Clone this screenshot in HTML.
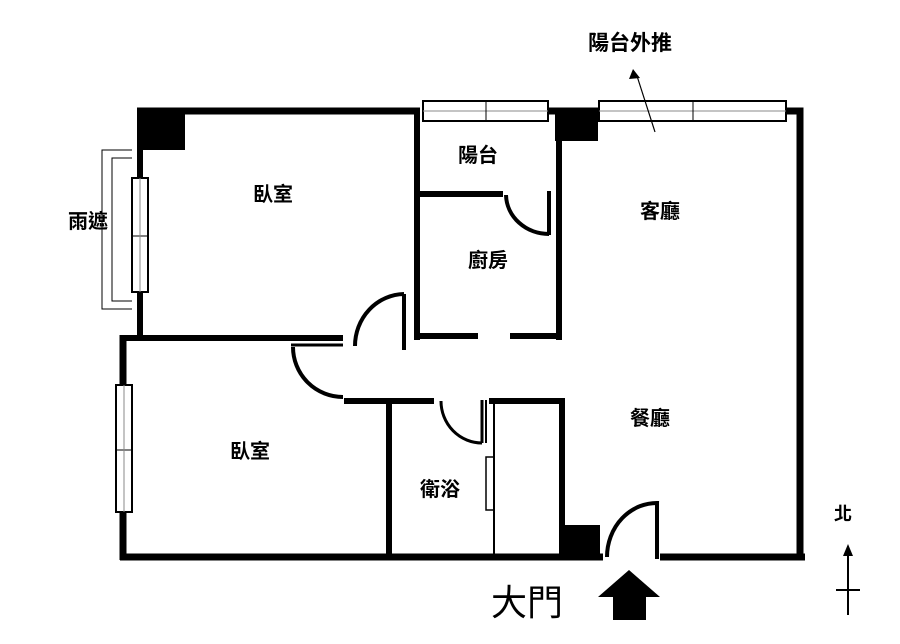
<!DOCTYPE html>
<html><head><meta charset="utf-8"><style>
html,body{margin:0;padding:0;background:#fff}
svg{display:block}
text{font-family:"Liberation Sans","Noto Sans CJK TC",sans-serif;fill:#000;font-weight:bold}
text.n{font-weight:normal}
</style></head><body>
<svg width="900" height="644" viewBox="0 0 900 644" xmlns="http://www.w3.org/2000/svg">
<g stroke="#000" fill="none" stroke-linecap="butt">
<line x1="137" y1="111" x2="420" y2="111" stroke-width="7"/>
<line x1="548" y1="111" x2="599" y2="111" stroke-width="7"/>
<polyline points="786,111 800,111 800,557" stroke-width="7"/>
<line x1="140" y1="108" x2="140" y2="340" stroke-width="6"/>
<line x1="120" y1="338" x2="343" y2="338" stroke-width="6"/>
<line x1="123" y1="335" x2="123" y2="560" stroke-width="7"/>
<line x1="120" y1="557" x2="603" y2="557" stroke-width="7"/>
<line x1="660" y1="557" x2="805" y2="557" stroke-width="7"/>
<line x1="417" y1="108" x2="417" y2="340" stroke-width="6"/>
<line x1="559" y1="108" x2="559" y2="340" stroke-width="6"/>
<line x1="417" y1="194" x2="503" y2="194" stroke-width="6"/>
<line x1="414" y1="336" x2="478" y2="336" stroke-width="6"/>
<line x1="510" y1="336" x2="562" y2="336" stroke-width="6"/>
<line x1="291" y1="345" x2="343" y2="345" stroke-width="3"/>
<line x1="344" y1="401" x2="434" y2="401" stroke-width="6"/>
<line x1="489" y1="401" x2="565" y2="401" stroke-width="6"/>
<line x1="389" y1="401" x2="389" y2="557" stroke-width="6"/>
<line x1="562" y1="401" x2="562" y2="557" stroke-width="6"/>
<line x1="494" y1="401" x2="494" y2="557" stroke-width="2"/>
<rect x="486" y="457" width="8" height="53" stroke-width="1.5"/>
<line x1="549" y1="191" x2="549" y2="235" stroke-width="4"/>
<path d="M506,195 A43,40 0 0 0 549,234" stroke-width="4"/>
<line x1="404" y1="294" x2="404" y2="350" stroke-width="4"/>
<path d="M355,346 A50,52 0 0 1 404,294" stroke-width="4"/>
<path d="M293,347 A50,50 0 0 0 343,397" stroke-width="4"/>
<line x1="482" y1="400" x2="482" y2="443" stroke-width="3"/>
<line x1="486" y1="400" x2="486" y2="443" stroke-width="2"/>
<path d="M441,401 A41,42 0 0 0 482,443" stroke-width="3"/>
<line x1="657" y1="503" x2="657" y2="559" stroke-width="4"/>
<path d="M607,557 A50,54 0 0 1 659,503" stroke-width="4"/>
<rect x="132" y="178" width="16" height="114" fill="#fff" stroke-width="2"/>
<line x1="132" y1="236" x2="148" y2="236" stroke-width="1"/>
<line x1="140" y1="178" x2="140" y2="292" stroke-width="1" stroke="#888"/>
<rect x="116" y="385" width="16" height="127" fill="#fff" stroke-width="2"/>
<line x1="116" y1="450" x2="132" y2="450" stroke-width="1"/>
<line x1="124" y1="385" x2="124" y2="512" stroke-width="1" stroke="#888"/>
<rect x="423" y="101" width="125" height="20" fill="#fff" stroke-width="2"/>
<line x1="423" y1="111" x2="548" y2="111" stroke-width="1" stroke="#888"/>
<line x1="486" y1="101" x2="486" y2="121" stroke-width="1"/>
<rect x="599" y="101" width="187" height="20" fill="#fff" stroke-width="2"/>
<line x1="599" y1="111" x2="786" y2="111" stroke-width="1" stroke="#888"/>
<line x1="693" y1="101" x2="693" y2="121" stroke-width="1"/>
<polyline points="132,150 102,150 102,309 132,309" stroke-width="1"/>
<polyline points="132,158 112,158 112,301 132,301" stroke-width="1"/>
<line x1="655" y1="132" x2="637" y2="76" stroke-width="1.2"/>
<line x1="848" y1="555" x2="848" y2="615" stroke-width="2"/>
<line x1="836" y1="590" x2="860" y2="590" stroke-width="2"/>
</g>
<g fill="#000">
<rect x="137" y="108" width="48" height="42"/>
<rect x="555" y="108" width="43" height="33"/>
<rect x="559" y="525" width="41" height="35"/>
<polygon points="633,69 629,79 640,78"/>
<polygon points="848,544 843,556 853,556"/>
<polygon points="629,570 598,597 613,597 613,620 646,620 646,597 660,597"/>
</g>
<g font-size="20">
<text x="630" y="50" text-anchor="middle" font-size="21">陽台外推</text>
<text x="273" y="201" text-anchor="middle">臥室</text>
<text x="478" y="162" text-anchor="middle">陽台</text>
<text x="488" y="267" text-anchor="middle">廚房</text>
<text x="660" y="218" text-anchor="middle">客廳</text>
<text x="88" y="228" text-anchor="middle">雨遮</text>
<text x="250" y="458" text-anchor="middle">臥室</text>
<text x="440" y="496" text-anchor="middle">衛浴</text>
<text x="650" y="425" text-anchor="middle">餐廳</text>
<text x="843" y="520" text-anchor="middle" font-size="18">北</text>
<text class="n" x="527" y="615" text-anchor="middle" font-size="36">大門</text>
</g>
</svg>
</body></html>
